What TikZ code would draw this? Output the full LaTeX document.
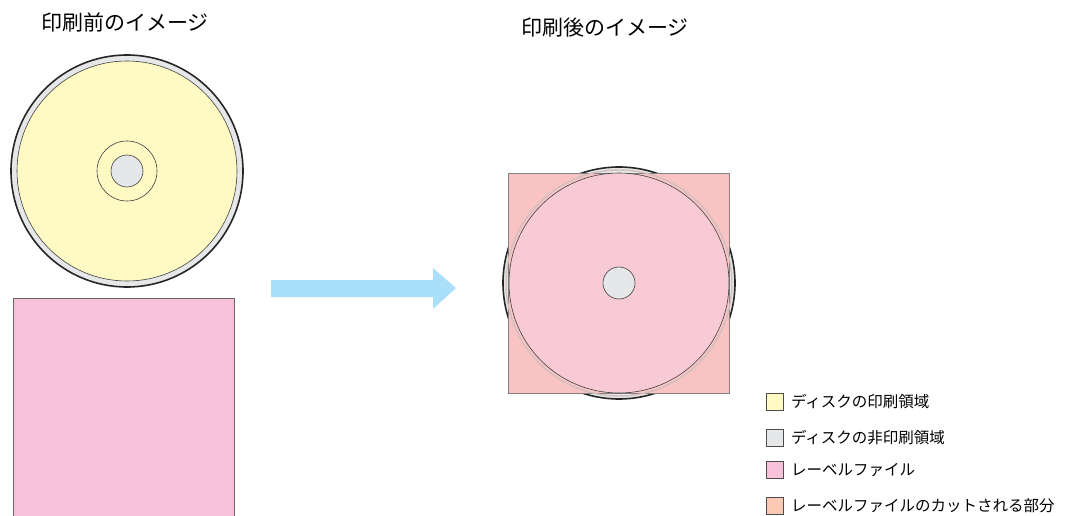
\documentclass[tikz,border=0pt]{standalone}
\usepackage{fontspec}
\setmainfont{Noto Sans CJK JP}
\usetikzlibrary{positioning}
\definecolor{printarea}{HTML}{FFF9C4}
\definecolor{noprint}{HTML}{E6E7E8}
\definecolor{labelfile}{HTML}{F6C1D9}
\definecolor{labelcut}{HTML}{F8C3C2}
\definecolor{labelcutkey}{HTML}{FCC9B5}
\definecolor{labelin}{HTML}{F8CAD5}
\definecolor{arrowblue}{HTML}{A9DFF8}

\begin{document}
\begin{tikzpicture}[
  x=1pt, y=-1pt,
  title/.style={font=\fontsize{21}{24}\selectfont, inner sep=0pt},
  keybox/.style={draw=black!70, line width=0.6pt, minimum size=17pt, inner sep=0pt},
  keytext/.style={font=\fontsize{15.5}{18}\selectfont, inner sep=0pt, anchor=west},
  discedge/.style={draw=black!85, line width=1.6pt, fill=noprint},
  thinedge/.style={draw=black!75, line width=0.6pt}
]
\useasboundingbox (0,0) rectangle (1066,516);

% Titles
\node[title] (before) at (125,22) {印刷前のイメージ};
\node[title] (after) at (605,28) {印刷後のイメージ};

% Disc before printing (left)
\filldraw[discedge] (127,171) circle (116);
\filldraw[thinedge, fill=printarea] (127,171) circle (110);
\draw[thinedge] (127,171) circle (30);
\filldraw[thinedge, fill=noprint] (127,171) circle (16);

% Label file (left, runs off the page)
\fill[labelfile] (13,298) rectangle (234,516);
\draw[black!60, line width=0.9pt] (13,516) -- (13,298) -- (234,298) -- (234,516);

% Arrow
\fill[arrowblue] (271,280) -- (433,280) -- (433,268) -- (456,288)
  -- (433,309) -- (433,297) -- (271,297) -- cycle;

% Disc after printing (right)
\filldraw[discedge] (619,283) circle (116);
\filldraw[draw=black!50, line width=0.9pt, fill=labelcut] (508,173) rectangle (729,393);
\draw[red!30!black!25, line width=1.4pt] (619,283) circle (113);
\filldraw[thinedge, fill=labelin] (619,283) circle (110);
\filldraw[thinedge, fill=noprint] (619,283) circle (16);

% Legend
\node[keybox, fill=printarea] (k1) at (775,402) {};
\node[keybox, fill=noprint, below=18pt of k1] (k2) {};
\node[keybox, fill=labelfile, below=15pt of k2] (k3) {};
\node[keybox, fill=labelcutkey, below=18pt of k3] (k4) {};
\node[keytext, right=7pt of k1] (t1) {ディスクの印刷領域};
\node[keytext, right=7pt of k2] (t2) {ディスクの非印刷領域};
\node[keytext, right=7pt of k3] (t3) {レーベルファイル};
\node[keytext, right=7pt of k4] (t4) {レーベルファイルのカットされる部分};

\end{tikzpicture}
\end{document}
